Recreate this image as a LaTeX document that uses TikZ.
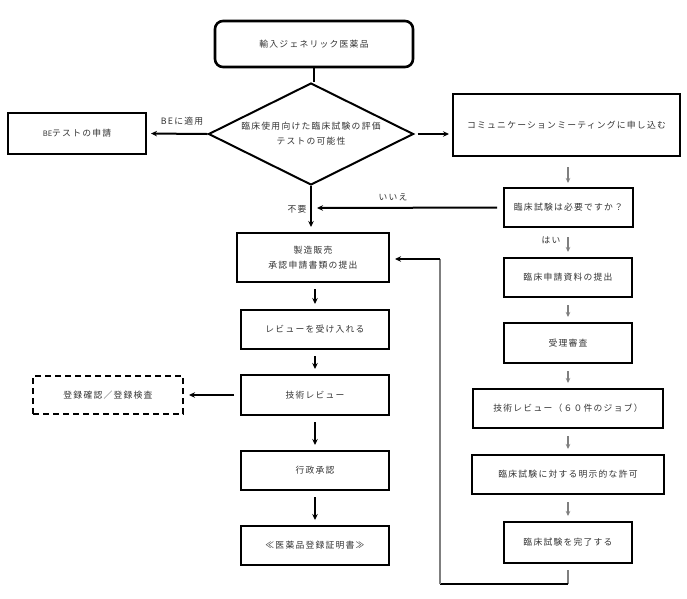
\documentclass[tikz,border=0pt]{standalone}
\usepackage{fontspec}
\newfontfamily\jp[LetterSpace=14]{Noto Sans CJK JP}
\newfontfamily\jpl{Noto Sans CJK JP}
\usetikzlibrary{shapes.geometric,arrows.meta}
\definecolor{txt}{HTML}{333333}
\definecolor{garrow}{HTML}{7F7F7F}
\begin{document}
\begin{tikzpicture}[x=1pt,y=-1pt,
  box/.style={draw, line width=2pt, font=\jp\fontsize{8.8}{15}\selectfont, text=txt, align=center, inner sep=0pt},
  lbl/.style={font=\jp\fontsize{8.8}{12}\selectfont, text=txt, inner sep=0pt},
  arr/.style={-{Stealth[length=6pt,width=5.5pt]}, line width=2pt},
  garr/.style={arr, draw=garrow, -{Stealth[length=5pt,width=4.5pt]}, line width=2pt},
  gline/.style={draw=garrow, line width=2pt},
  bline/.style={line width=2pt}]
\useasboundingbox (0,0) rectangle (687,598);
\node[box, rounded corners=8pt, line width=2.6pt, minimum width=198pt, minimum height=46pt] (start) at (314,44) {輸入ジェネリック医薬品};
\node[box, diamond, aspect=1.95, minimum width=205pt, minimum height=102pt] (dia) at (311,134) {臨床使用向けた臨床試験の評価\\テストの可能性};
\node[box, minimum width=138pt, minimum height=41pt] (be) at (77,133.5) {{\jpl\fontsize{7.5}{15}\selectfont BE}テストの申請};
\node[box, minimum width=227pt, minimum height=62pt] (comm) at (566.5,125) {コミュニケーションミーティングに申し込む};
\node[box, minimum width=129pt, minimum height=39pt] (q) at (568.5,207.5) {臨床試験は必要ですか？};
\node[box, minimum width=128pt, minimum height=39pt] (shinsei) at (568,277.5) {臨床申請資料の提出};
\node[box, minimum width=128pt, minimum height=40pt] (juri) at (568,343) {受理審査};
\node[box, minimum width=190pt, minimum height=39pt] (g60) at (568,408.5) {技術レビュー（６０件のジョブ）};
\node[box, minimum width=192pt, minimum height=39pt] (kyoka) at (568,474.5) {臨床試験に対する明示的な許可};
\node[box, minimum width=128pt, minimum height=41pt] (kanryo) at (568,542.5) {臨床試験を完了する};
\node[box, minimum width=152pt, minimum height=49pt] (seizou) at (313,257.5) {製造販売\\承認申請書類の提出};
\node[box, minimum width=148pt, minimum height=39pt] (review) at (315,329.5) {レビューを受け入れる};
\node[box, minimum width=148pt, minimum height=40pt] (tech) at (315,395) {技術レビュー};
\node[box, dashed, dash pattern=on 6pt off 4pt, minimum width=150pt, minimum height=38pt] (touroku) at (108,395) {登録確認／登録検査};
\node[box, minimum width=148pt, minimum height=39pt] (gyousei) at (315,470.5) {行政承認};
\node[box, minimum width=148pt, minimum height=39pt] (cert) at (315,545.5) {≪医薬品登録証明書≫};
% labels
\node[lbl] (lbe) at (182,121) {BEに適用};
\node[lbl] (lno) at (393,197) {いいえ};
\node[lbl] (lfuyo) at (297,209) {不要};
\node[lbl] (lyes) at (551,240) {はい};
% coordinates
\coordinate (noend) at (317,208);
\coordinate (b1) at (568,584);
\coordinate (b2) at (440,584);
\coordinate (b3) at (440,259);
% connectors
\draw[bline] (start.south) -- (start.south |- dia.north);
\draw[arr, shorten >=4pt] (dia.west) -- (be.east);
\draw[arr, shorten >=3pt, shorten <=3pt] (dia.east) -- (comm.west |- dia.east);
\draw[garr, shorten <=10pt, shorten >=4pt] (comm.south -| b1) -- (q.north -| b1);
\draw[arr, shorten <=6pt] (q.west) -- (noend);
\draw[arr, shorten >=5pt] (dia.south) -- (seizou.north -| dia.south);
\draw[garr, shorten <=9pt, shorten >=5pt] (q.south -| b1) -- (shinsei.north -| b1);
\draw[garr, shorten <=7pt, shorten >=5pt] (shinsei.south) -- (juri.north);
\draw[garr, shorten <=7pt, shorten >=5pt] (juri.south) -- (g60.north);
\draw[garr, shorten <=7pt, shorten >=5pt] (g60.south) -- (kyoka.north);
\draw[garr, shorten <=7pt, shorten >=5pt] (kyoka.south) -- (kanryo.north);
\draw[gline, shorten <=6pt] (kanryo.south) -- (b1);
\draw[bline] (b1) -- (b2);
\draw[gline] (b2) -- (b3);
\draw[arr, shorten >=5pt] (b3) -- (seizou.east |- b3);
\draw[arr, shorten <=6pt, shorten >=5pt] (seizou.south -| review.north) -- (review.north);
\draw[arr, shorten <=6pt, shorten >=5pt] (review.south) -- (tech.north);
\draw[arr, shorten <=6pt, shorten >=5pt] (tech.west) -- (touroku.east);
\draw[arr, shorten <=6pt, shorten >=5pt] (tech.south) -- (gyousei.north);
\draw[arr, shorten <=6pt, shorten >=5pt] (gyousei.south) -- (cert.north);
\end{tikzpicture}
\end{document}
